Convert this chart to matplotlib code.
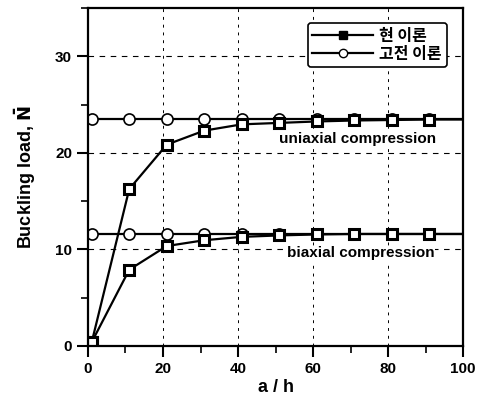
import matplotlib
matplotlib.use("Agg")
import matplotlib.pyplot as plt
from matplotlib.ticker import MultipleLocator

plt.rcParams["font.family"] = ["Liberation Sans", "Noto Sans CJK KR", "DejaVu Sans"]
plt.rcParams["font.weight"] = "bold"

a_h = [1, 11, 21, 31, 41, 51, 61, 71, 81, 91]

# present theory (squares)
uni_present = [0.4, 16.25, 20.85, 22.3, 22.95, 23.1, 23.25, 23.35, 23.4, 23.45]
bi_present = [0.4, 7.9, 10.35, 10.95, 11.3, 11.45, 11.55, 11.6, 11.6, 11.6]

# classical theory (circles)
uni_classic = [23.5] * 10
bi_classic = [11.6] * 10

fig = plt.figure(figsize=(4.79, 4.07), dpi=100)
ax = fig.add_axes([0.1837, 0.1499, 0.783, 0.8305])

line_kw = dict(color="black", lw=1.6)
ax.plot([0] + a_h + [100], [uni_classic[0]] + uni_classic + [uni_classic[-1]], **line_kw)
ax.plot([0] + a_h + [100], [bi_classic[0]] + bi_classic + [bi_classic[-1]], **line_kw)
ax.plot(a_h + [100], uni_present + [uni_present[-1]], **line_kw)
ax.plot(a_h + [100], bi_present + [bi_present[-1]], **line_kw)

sq = dict(marker="s", ms=6.5, mfc="white", mec="black", mew=2.2)
ci = dict(marker="o", ms=8, mfc="white", mec="black", mew=1.2)
ax.plot(a_h, uni_classic, ls="none", **ci)
ax.plot(a_h, bi_classic, ls="none", **ci)
ax.plot(a_h, uni_present, ls="none", **sq)
ax.plot(a_h, bi_present, ls="none", **sq)

# legend handles
h1, = ax.plot([], [], color="black", lw=1.6, marker="s", ms=5.5, mfc="black", mec="black")
h2, = ax.plot([], [], color="black", lw=1.6, marker="o", ms=6, mfc="white", mec="black", mew=1.0)
leg = ax.legend([h1, h2], ["현 이론", "고전 이론"], loc="upper right",
                bbox_to_anchor=(0.978, 0.98), fancybox=True, framealpha=1,
                edgecolor="black", handlelength=3.8, borderpad=0.3,
                handletextpad=0.4, labelspacing=0.15,
                prop={"family": ["Noto Sans CJK KR"], "weight": "bold", "size": 11.5})
leg.get_frame().set_linewidth(1.2)

ax.text(72, 21.45, "uniaxial compression", ha="center", va="center", fontsize=11,
        fontweight="bold", bbox=dict(fc="white", ec="none", pad=0.5))
ax.text(72.7, 9.6, "biaxial compression", ha="center", va="center", fontsize=11,
        fontweight="bold", bbox=dict(fc="white", ec="none", pad=0.5))

ax.set_xlim(0, 100)
ax.set_ylim(0, 35)
ax.xaxis.set_major_locator(MultipleLocator(20))
ax.xaxis.set_minor_locator(MultipleLocator(10))
ax.yaxis.set_major_locator(MultipleLocator(10))
ax.yaxis.set_minor_locator(MultipleLocator(5))
ax.tick_params(which="major", direction="out", length=8, width=1.5, labelsize=11)
ax.tick_params(which="minor", direction="out", length=5, width=1.2)
for lab in ax.get_xticklabels() + ax.get_yticklabels():
    lab.set_fontweight("bold")

ax.grid(True, axis="y", which="major", color="black", ls=(0, (5, 5)), lw=0.8)
ax.grid(True, axis="x", which="major", color="black", ls=(0, (3, 5)), lw=0.7)
for s in ax.spines.values():
    s.set_linewidth(1.6)

ax.set_xlabel("a / h", fontsize=13, fontweight="bold", labelpad=2)
ax.set_ylabel(r"Buckling load, $\mathbf{\bar{N}}$", fontsize=13, fontweight="bold", labelpad=12)

fig.savefig("out.png", dpi=100)
